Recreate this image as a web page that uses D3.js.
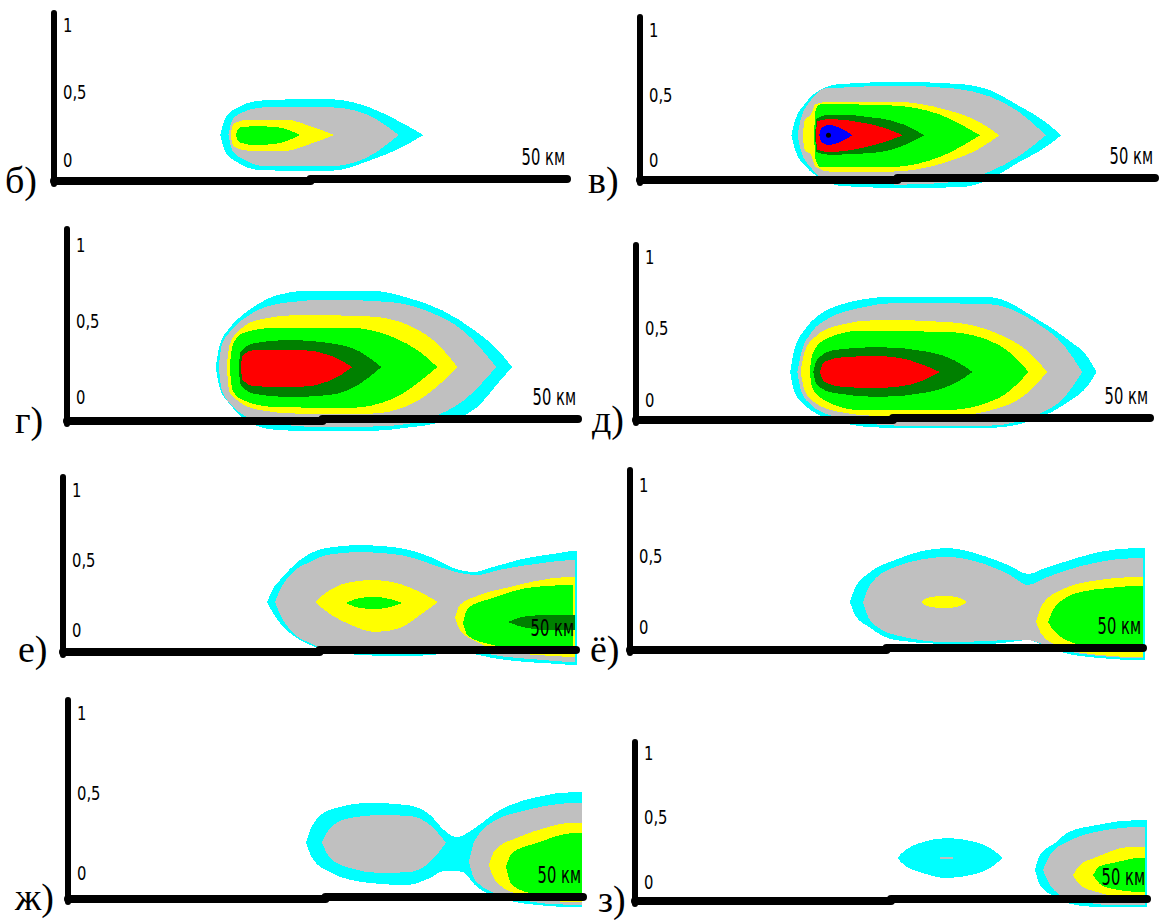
<!DOCTYPE html>
<html>
<head>
<meta charset="utf-8">
<script src="https://cdn.jsdelivr.net/npm/d3@7"></script>
<style>
  body { margin: 0; background: #fff; }
</style>
</head>
<body>
<script>
// Levels of the field, outer to inner
const levelNames = ["cyan", "gray", "yellow", "green", "darkgreen", "red", "blue"];
const levelColors = ["#00ffff", "#c0c0c0", "#ffff00", "#00ff00", "#008000", "#ff0000", "#0000ff"];

const panelLetters = ["б)", "в)", "г)", "д)", "е)", "ё)", "ж)", "з)"];
const tickValues = [0, 0.5, 1];
const tickLabels = ["0", "0,5", "1"];
const xDomain = [0, 50];
const xUnitLabel = "50 км";

// Contours: [km, lower height, upper height]
const contoursB = [
  { level: 0, pts: [[16.2,.185,.185],[16.7,.06,.31],[17.8,-.015,.385],[20.1,-.075,.44],[24.0,-.08,.45],[27.0,-.08,.45],[30.9,0,.385],[33.8,.09,.28],[36.0,.185,.185]] },
  { level: 1, pts: [[17.0,.185,.185],[17.4,.07,.30],[18.6,0,.36],[20.6,-.045,.39],[27.0,-.045,.39],[30.4,.015,.34],[33.6,.185,.185]] },
  { level: 2, pts: [[17.2,.185,.185],[17.5,.10,.27],[19.1,.067,.30],[22.5,.067,.30],[25.0,.12,.25],[27.3,.185,.185]] },
  { level: 3, pts: [[17.7,.185,.185],[18.1,.13,.24],[19.6,.11,.25],[21.6,.12,.245],[24.0,.185,.185]] }
];

const contoursV = [
  { level: 0, pts: [[14.7,.19,.19],[15.0,.09,.29],[16.1,-.05,.44],[17.5,-.14,.54],[19.5,-.2,.585],[25.2,-.215,.6],[31.0,-.21,.585],[34.2,-.14,.53],[36.5,-.03,.43],[39.4,.1,.29],[40.9,.19,.19]] },
  { level: 1, pts: [[15.3,.19,.19],[15.6,.077,.31],[16.6,-.06,.46],[18.0,-.15,.55],[25.2,-.19,.57],[30.5,-.17,.55],[33.9,-.09,.49],[36.8,.03,.37],[39.4,.19,.19]] },
  { level: 2, pts: [[15.8,.19,.19],[16.0,.077,.31],[16.6,.04,.35],[17.05,-.054,.43],[18.5,-.09,.45],[24.3,-.09,.45],[29.8,-.015,.385],[33.0,.09,.29],[34.9,.19,.19]] },
  { level: 3, pts: [[16.9,.19,.19],[17.05,0,.385],[17.5,-.054,.43],[24.3,-.054,.42],[29.1,.023,.35],[33.0,.19,.19]] },
  { level: 4, pts: [[17.0,.19,.19],[17.15,.06,.32],[18.5,.04,.35],[23.3,.06,.32],[25.7,.115,.27],[27.6,.19,.19]] },
  { level: 5, pts: [[17.05,.19,.19],[17.25,.077,.30],[18.5,.06,.315],[21.4,.09,.29],[23.8,.14,.245],[25.5,.19,.19]] },
  { level: 6, pts: [[17.4,.19,.19],[17.6,.14,.245],[18.3,.115,.27],[19.5,.14,.245],[20.6,.19,.19]] }
];
const sourcePointV = [18.3, 0.19];

const contoursG = [
  { level: 0, pts: [[14.55,.197,.197],[14.94,.059,.34],[15.92,-.046,.455],[17.19,-.138,.54],[18.55,-.19,.605],[20.51,-.217,.67],[23.73,-.224,.70],[29.59,-.224,.70],[33.5,-.20,.65],[36.72,-.165,.57],[40.04,-.072,.43],[42.29,.10,.30],[43.55,.197,.197]] },
  { level: 1, pts: [[14.85,.197,.197],[15.14,.046,.34],[16.11,-.053,.44],[17.87,-.138,.54],[21.29,-.184,.62],[25.68,-.20,.64],[31.54,-.19,.625],[35.45,-.14,.56],[38.87,-.02,.43],[42.0,.197,.197]] },
  { level: 2, pts: [[15.63,.197,.197],[15.9,.033,.34],[16.9,-.033,.44],[18.85,-.086,.51],[22.75,-.11,.54],[29.59,-.11,.53],[33.5,-.053,.47],[36.4,.08,.34],[38.2,.197,.197]] },
  { level: 3, pts: [[15.92,.197,.197],[16.2,.046,.34],[17.2,-.02,.42],[20.31,-.066,.455],[27.64,-.072,.455],[32.03,-.007,.39],[34.47,.10,.30],[36.23,.197,.197]] },
  { level: 4, pts: [[16.8,.197,.197],[17.0,.08,.30],[18.36,.02,.355],[21.78,0,.375],[25.68,.013,.355],[28.61,.085,.30],[30.76,.197,.197]] },
  { level: 5, pts: [[17.0,.197,.197],[17.19,.11,.276],[18.36,.07,.31],[22.75,.066,.31],[25.68,.105,.276],[27.93,.197,.197]] }
];

const contoursD = [
  { level: 0, pts: [[15.0,.196,.196],[15.4,.056,.35],[16.4,-.035,.49],[17.8,-.105,.594],[19.8,-.16,.664],[24.6,-.196,.72],[34.3,-.196,.72],[39.15,-.126,.56],[42.05,-.014,.42],[44.0,.105,.294],[44.8,.196,.196]] },
  { level: 1, pts: [[15.7,.196,.196],[16.1,.056,.336],[17.05,-.035,.47],[18.8,-.105,.573],[21.7,-.154,.643],[25.6,-.18,.68],[34.3,-.18,.67],[39.15,-.098,.53],[41.6,.014,.385],[43.4,.196,.196]] },
  { level: 2, pts: [[16.0,.196,.196],[16.4,.07,.336],[17.3,-.014,.434],[19.8,-.084,.524],[23.6,-.112,.56],[30.4,-.112,.545],[35.3,-.056,.46],[38.2,.056,.336],[40.0,.196,.196]] },
  { level: 3, pts: [[16.9,.196,.196],[17.15,.084,.315],[18.3,0,.42],[21.7,-.07,.483],[30.4,-.07,.476],[35.3,.014,.385],[38.2,.196,.196]] },
  { level: 4, pts: [[17.25,.196,.196],[17.6,.105,.28],[19.3,.049,.35],[23.6,.021,.37],[28.5,.056,.336],[30.9,.112,.28],[32.75,.196,.196]] },
  { level: 5, pts: [[17.9,.196,.196],[18.3,.126,.266],[20.25,.09,.30],[23.6,.084,.308],[26.55,.105,.28],[29.55,.196,.196]] }
];

const contoursE = [
  { level: 0, pts: [[19.9,.2,.2],[20.4,.129,.286],[21.15,.05,.357],[23.1,-.071,.50],[25.7,-.143,.586],[28.95,-.179,.607],[32.85,-.186,.586],[36.06,-.179,.514],[38.0,-.157,.443],[39.96,-.171,.414],[41.9,-.20,.45],[45.2,-.229,.514],[48.44,-.243,.55],[49.6,-.25,.564],[50.1,-.25,.564]] },
  { level: 1, pts: [[20.66,.2,.2],[21.15,.114,.286],[22.42,-.021,.414],[24.07,-.093,.486],[25.73,-.143,.536],[28.95,-.157,.557],[32.85,-.157,.536],[36.74,-.143,.45],[38.69,-.143,.407],[40.35,-.157,.393],[42.59,-.186,.43],[46.78,-.214,.479],[49.61,-.229,.50],[49.9,-.229,.50]] },
  { level: 2, pts: [[24.56,.2,.2],[26.02,.114,.286],[28.07,.036,.343],[30.41,-.014,.357],[32.85,.014,.329],[34.8,.107,.271],[36.55,.2,.2]] },
  { level: 3, pts: [[27.58,.193,.193],[28.95,.157,.229],[30.41,.15,.236],[31.87,.164,.221],[33.04,.193,.193]] },
  { level: 2, pts: [[38.21,.086,.086],[38.69,0,.179],[40.35,-.086,.243],[43.57,-.157,.307],[47.76,-.186,.371],[49.9,-.193,.379]] },
  { level: 3, pts: [[38.99,.05,.05],[39.47,-.043,.157],[41.91,-.107,.229],[45.22,-.143,.30],[49.12,-.157,.321],[49.71,-.157,.321]] },
  { level: 4, pts: [[43.37,.057,.057],[45.22,.014,.10],[47.47,0,.107],[49.9,0,.107]] }
];

const contoursYo = [
  { level: 0, pts: [[21.44,.176,.176],[21.93,.085,.275],[23.29,0,.38],[25.83,-.092,.472],[30.9,-.12,.556],[34.8,-.12,.493],[37.04,-.106,.43],[38.79,-.092,.373],[40.45,-.134,.415],[42.01,-.176,.451],[45.71,-.218,.528],[49.32,-.232,.556],[50.19,-.232,.556]] },
  { level: 1, pts: [[22.71,.176,.176],[23.39,.049,.296],[25.83,-.056,.423],[30.9,-.106,.493],[34.8,-.099,.437],[37.04,-.092,.366],[38.79,-.092,.296],[40.45,-.127,.345],[42.01,-.162,.387],[45.71,-.204,.458],[49.32,-.218,.486],[50.0,-.218,.486]] },
  { level: 2, pts: [[28.36,.176,.176],[29.24,.141,.211],[30.7,.134,.218],[31.87,.141,.211],[32.85,.176,.176]] },
  { level: 2, pts: [[39.57,.035,.035],[40.16,-.056,.155],[42.01,-.141,.261],[45.71,-.197,.331],[49.32,-.211,.352],[50.0,-.211,.352]] },
  { level: 3, pts: [[40.74,.035,.035],[41.42,-.035,.141],[43.86,-.127,.246],[46.78,-.162,.275],[49.32,-.176,.289],[50.0,-.176,.289]] }
];

const contoursZh = [
  { level: 0, pts: [[23.1,.19,.19],[23.7,.094,.294],[25.4,.006,.394],[29.3,-.0625,.4375],[32.9,-.075,.425],[35.15,-.031,.3625],[36.5,.012,.269],[37.67,.012,.225],[38.35,.006,.235],[39.5,-.075,.281],[41.94,-.156,.394],[45.53,-.2,.475],[49.13,-.2125,.506],[49.9,-.2125,.506]] },
  { level: 1, pts: [[24.66,.19,.19],[25.44,.094,.281],[27.38,.031,.344],[30.29,0,.3625],[33.2,.006,.356],[35.15,.069,.30],[36.7,.19,.19]] },
  { level: 1, pts: [[38.93,.069,.069],[39.51,-.044,.206],[41.94,-.1375,.344],[43.79,-.169,.381],[49.13,-.2,.4375],[49.9,-.2,.4375]] },
  { level: 2, pts: [[40.87,.05,.05],[41.46,-.044,.144],[43.79,-.1375,.225],[46.31,-.169,.281],[48.74,-.181,.3125],[49.9,-.181,.3125]] },
  { level: 3, pts: [[42.52,.0375,.0375],[43.11,-.075,.125],[45.53,-.1375,.1875],[49.13,-.169,.25],[49.9,-.169,.25]] }
];

const contoursZ = [
  { level: 0, pts: [[25.6,.186,.186],[26.4,.124,.248],[27.8,.078,.302],[30.5,.031,.341],[33.2,.062,.31],[34.7,.109,.264],[35.9,.186,.186]] },
  { level: 1, pts: [[29.6,.186,.186],[30.4,.175,.197],[31.25,.186,.186]] },
  { level: 0, pts: [[39.06,.093,.093],[39.55,-.023,.209],[41.02,-.116,.302],[42.19,-.163,.38],[45.12,-.194,.442],[49.02,-.194,.48],[50.0,-.194,.48]] },
  { level: 1, pts: [[39.84,.093,.093],[40.53,-.023,.209],[42.19,-.124,.31],[46.68,-.178,.411],[49.32,-.178,.426],[49.8,-.178,.426]] },
  { level: 2, pts: [[42.77,.054,.054],[43.46,-.023,.132],[45.12,-.078,.194],[48.24,-.124,.271],[49.8,-.14,.271]] },
  { level: 3, pts: [[44.73,.054,.054],[45.41,-.016,.124],[46.68,-.054,.147],[49.32,-.078,.186],[49.8,-.078,.186]] }
];

const panelContours = [contoursB, contoursV, contoursG, contoursD, contoursE, contoursYo, contoursZh, contoursZ];

// Panel placement on the page (pixels)
const layout = [
  { ax: 54,  right: 567,  axisY: 180, top: 13,  y0: 160, y1: 25,  lx: 5,   ly: 193 },
  { ax: 640, right: 1155, axisY: 179, top: 17,  y0: 160, y1: 30,  lx: 588, ly: 193 },
  { ax: 67,  right: 578,  axisY: 420, top: 229, y0: 397, y1: 245, lx: 15,  ly: 433 },
  { ax: 636, right: 1150, axisY: 419, top: 245, y0: 400, y1: 257, lx: 592, ly: 432 },
  { ax: 63,  right: 576,  axisY: 651, top: 477, y0: 630, y1: 490, lx: 18,  ly: 662 },
  { ax: 630, right: 1143, axisY: 649, top: 470, y0: 627, y1: 485, lx: 590, ly: 662 },
  { ax: 68,  right: 583,  axisY: 898, top: 700, y0: 873, y1: 713, lx: 15,  ly: 910 },
  { ax: 635, right: 1147, axisY: 900, top: 742, y0: 882, y1: 753, lx: 598, ly: 912 }
];

const labelFont = "'DejaVu Sans', sans-serif";

const svg = d3.select("body")
  .append("svg")
  .attr("width", 1160)
  .attr("height", 920);

panelContours.forEach((contours, i) => {
  const L = layout[i];
  const x = d3.scaleLinear().domain(xDomain).range([L.ax, L.right]);
  const y = d3.scaleLinear().domain([0, 1]).range([L.y0, L.y1]);
  const g = svg.append("g").attr("class", "panel");

  const area = d3.area()
    .x(d => x(d[0]))
    .y0(d => y(d[1]))
    .y1(d => y(d[2]))
    .curve(d3.curveMonotoneX);

  // field contours
  g.selectAll(".blob")
    .data(contours)
    .join("path")
    .attr("class", d => "blob " + levelNames[d.level])
    .attr("d", d => area(d.pts))
    .attr("fill", d => levelColors[d.level])
    .attr("shape-rendering", "crispEdges");

  if (i === 1) {
    g.append("circle")
      .attr("cx", x(sourcePointV[0]))
      .attr("cy", y(sourcePointV[1]))
      .attr("r", 2.5)
      .attr("fill", "#000");
  }

  // thick axes
  g.append("line")
    .attr("x1", L.ax).attr("x2", L.ax)
    .attr("y1", L.top).attr("y2", L.axisY + 4)
    .attr("stroke", "#000").attr("stroke-width", 6)
    .attr("stroke-linecap", "round");

  const mid = x(xDomain[1] / 2);
  g.append("line")
    .attr("x1", L.ax).attr("x2", mid)
    .attr("y1", L.axisY + 1).attr("y2", L.axisY + 1)
    .attr("stroke", "#000").attr("stroke-width", 8)
    .attr("stroke-linecap", "round");
  g.append("line")
    .attr("x1", mid).attr("x2", L.right)
    .attr("y1", L.axisY - 1).attr("y2", L.axisY - 1)
    .attr("stroke", "#000").attr("stroke-width", 8)
    .attr("stroke-linecap", "round");

  // height labels (narrow, tall glyphs)
  g.append("g")
    .attr("transform", `translate(${L.ax},0)`)
    .call(d3.axisRight(y).tickValues(tickValues).tickFormat((d, k) => tickLabels[k]).tickSize(0).tickPadding(0))
    .call(a => a.select(".domain").remove())
    .selectAll("text")
    .attr("x", 0)
    .attr("transform", "translate(9,0) scale(0.74,1)")
    .attr("font-family", labelFont)
    .attr("font-size", 20)
    .attr("fill", "#000");

  g.append("g")
    .attr("transform", `translate(${x(xDomain[1]) - 2},${L.axisY - 15}) scale(0.64,1)`)
    .append("text")
    .attr("text-anchor", "end")
    .attr("font-family", labelFont)
    .attr("font-size", 23)
    .attr("fill", "#000")
    .text(xUnitLabel);

  g.append("text")
    .attr("x", L.lx)
    .attr("y", L.ly)
    .attr("font-family", "'Liberation Serif', 'Times New Roman', serif")
    .attr("font-size", 38)
    .attr("fill", "#000")
    .text(panelLetters[i]);
});
</script>
</body>
</html>
